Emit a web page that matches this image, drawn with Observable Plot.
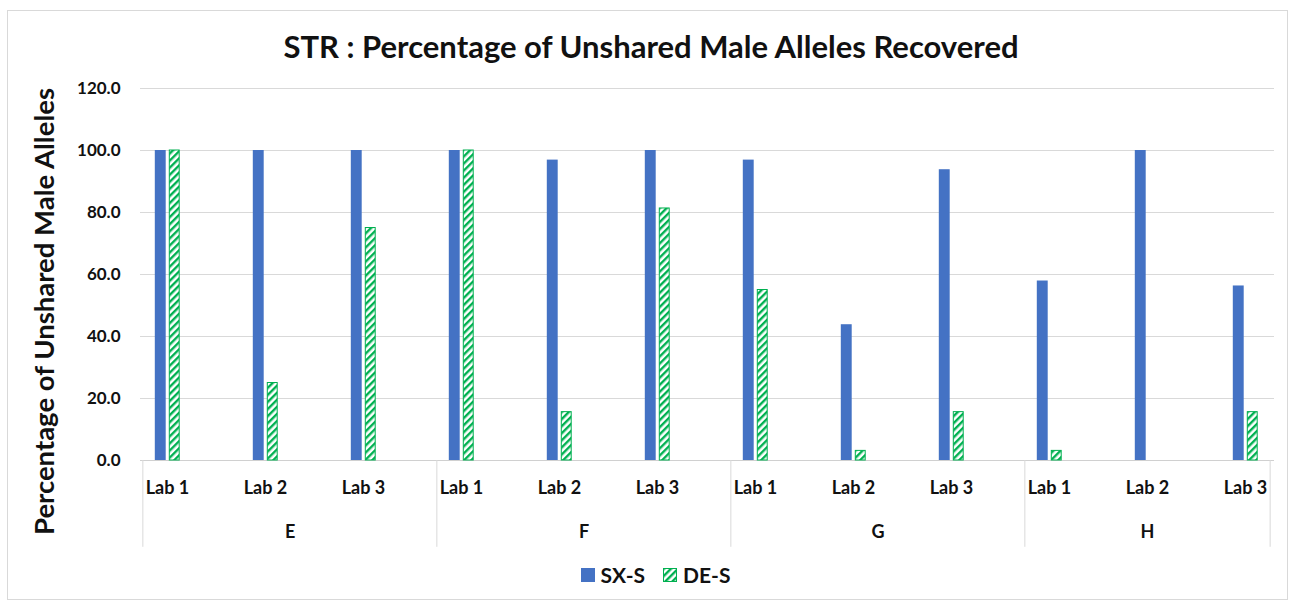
<!DOCTYPE html>
<html><head><meta charset="utf-8">
<script src="https://cdn.jsdelivr.net/npm/d3@7"></script>
<script src="https://cdn.jsdelivr.net/npm/@observablehq/plot@0.6"></script>
<style>
body{margin:0;background:#fff;font-family:Lato,"Open Sans",sans-serif;width:1293px;height:605px;overflow:hidden}
#frame{position:absolute;left:7px;top:10px;width:1281px;height:590px;border:1px solid #d9d9d9;box-sizing:border-box}
#title{position:absolute;left:0;top:27px;width:1302px;text-align:center;font-weight:bold;font-size:31px;color:#111;line-height:38px}
#chart{position:absolute;left:0;top:60px}
#legend{position:absolute;top:562px;left:0;width:1311px;display:flex;justify-content:center;align-items:center;font-weight:bold;font-size:21px;color:#111}
#legend .sw{display:inline-block;width:14px;height:14px;margin-right:6px}
#legend .gap{display:inline-block;width:18px}
</style></head>
<body>
<div id="frame"></div>
<div id="title">STR : Percentage of Unshared Male Alleles Recovered</div>
<div id="chart"></div>
<div id="legend">
  <span class="sw" style="background:#4472c4"></span><span>SX-S</span><span class="gap"></span>
  <svg class="sw" width="14" height="14" viewBox="0 0 14 14"><defs><pattern id="hatchL" patternUnits="userSpaceOnUse" width="5" height="5" patternTransform="rotate(45)"><rect width="5" height="5" fill="#fff"/><rect width="2.4" height="5" fill="#00b050"/></pattern></defs><rect x="0.5" y="0.5" width="13" height="13" fill="url(#hatchL)" stroke="#00b050" stroke-width="1"/></svg><span>DE-S</span>
</div>
<script>
const groups = ["E", "F", "G", "H"];
const labs = ["Lab 1", "Lab 2", "Lab 3"];
const seriesNames = ["SX-S", "DE-S"];
const sxS = [100, 100, 100, 100, 96.9, 100, 96.9, 43.8, 93.8, 57.9, 100, 56.3];
const deS = [100, 25, 75, 100, 15.6, 81.3, 55, 3.1, 15.6, 3.1, 0, 15.6];
const yTicks = [0, 20, 40, 60, 80, 100, 120];
const yLabel = "Percentage of Unshared Male Alleles";

const rows = groups.flatMap((g, gi) => labs.map((l, li) => ({
  key: g + "|" + l, group: g, lab: l, sx: sxS[gi * 3 + li], de: deS[gi * 3 + li]
})));
const keys = rows.map(d => d.key);
const half = 24.65;

const chart = Plot.plot({
  width: 1293,
  height: 500,
  marginLeft: 140,
  marginRight: 19,
  marginTop: 28,
  marginBottom: 100,
  style: {fontFamily: "Lato, 'Open Sans', sans-serif", color: "#111", background: "transparent"},
  x: {type: "band", domain: keys, range: [114.7, 1298.3], padding: 0},
  y: {domain: [0, 120]},
  marks: [
    Plot.gridY(yTicks.filter(t => t > 0), {stroke: "#d9d9d9", strokeOpacity: 1}),
    Plot.ruleY([0], {stroke: "#d0d0d0"}),
    Plot.barY(rows, {x: "key", y: "sx", fill: "#4472c4", insetLeft: 36.8, insetRight: 50.3}),
    Plot.barY(rows.filter(d => d.de > 0), {x: "key", y: "de", fill: "url(#hatch)", stroke: "#00b050", strokeWidth: 1, insetLeft: 51.3, insetRight: 36.8}),
    Plot.ruleX(groups.map(g => g + "|Lab 1"), {y1: 0, y2: -28, dx: -half, stroke: "#d9d9d9"}),
    Plot.ruleX([groups[groups.length - 1] + "|Lab 3"], {y1: 0, y2: -28, dx: half, stroke: "#d9d9d9"}),
    Plot.axisY({ticks: yTicks, tickFormat: d3.format(".1f"), tickSize: 0, tickPadding: 20, fontSize: 17, fontWeight: "bold", label: null}),
    Plot.axisX({tickFormat: d => d.split("|")[1], tickSize: 0, tickPadding: 21, fontSize: 18, fontWeight: "bold", label: null}),
    Plot.text(groups.slice(0, 3), {x: g => g + "|Lab 2", text: d => d, frameAnchor: "bottom", dy: 72, dx: half, fontSize: 18, fontWeight: "bold", lineAnchor: "middle"}),
    Plot.text(groups.slice(3), {x: g => g + "|Lab 2", text: d => d, frameAnchor: "bottom", dy: 72, fontSize: 18, fontWeight: "bold", lineAnchor: "middle"}),
    Plot.text([yLabel], {text: d => d, frameAnchor: "left", rotate: -90, dx: -95, dy: 37, textAnchor: "middle", lineAnchor: "middle", fontSize: 27.5, fontWeight: "bold"})
  ]
});

const defs = d3.select(chart).insert("defs", ":first-child");
const pat = defs.append("pattern").attr("id", "hatch").attr("patternUnits", "userSpaceOnUse")
  .attr("width", 5).attr("height", 5).attr("patternTransform", "rotate(45)");
pat.append("rect").attr("width", 5).attr("height", 5).attr("fill", "#fff");
pat.append("rect").attr("width", 2.4).attr("height", 5).attr("fill", "#00b050");

document.getElementById("chart").appendChild(chart);
</script>
</body></html>
